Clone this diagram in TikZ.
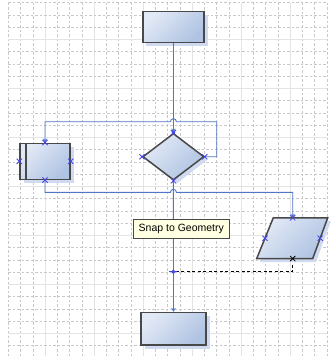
\documentclass[tikz,border=0pt]{standalone}
\usepackage{fontspec}
\setmainfont{Liberation Sans}
\usetikzlibrary{shapes.geometric,arrows.meta,calc}
\definecolor{gridA}{HTML}{C8C8C8}
\definecolor{gridB}{HTML}{E4E4E4}
\definecolor{conn}{HTML}{5077C6}
\definecolor{markblue}{HTML}{4646E6}
\definecolor{shA}{HTML}{E2E9F6}
\definecolor{shB}{HTML}{AFC3E2}
\definecolor{shad}{HTML}{D0DBF2}
\definecolor{edge}{HTML}{484848}
\definecolor{tipbg}{HTML}{FFFFE1}
\tikzset{
  shapebox/.style={draw=edge, line width=1.5pt, top color=shA, bottom color=shB, shading angle=45, inner sep=0pt},
  shadowbox/.style={fill=shad, draw=none},
  connector/.style={draw=conn, line width=0.9pt},
  arrowed/.style={-{Stealth[length=4pt,width=4.5pt]}},
  xmark/.style={draw=markblue, line width=0.8pt},
}
\newcommand{\xm}[2][markblue]{\draw[xmark,draw=#1] ($(#2)+(-2.6pt,-2.6pt)$) -- ($(#2)+(2.6pt,2.6pt)$) ($(#2)+(-2.6pt,2.6pt)$) -- ($(#2)+(2.6pt,-2.6pt)$);}
\begin{document}
\begin{tikzpicture}[x=1pt,y=-1pt]
\useasboundingbox (0,0) rectangle (331,356);
\fill[white] (0,0) rectangle (331,356);
% grid
\foreach \k in {0,...,26}{
  \pgfmathsetmacro{\gx}{8.3+12.25*\k}
  \pgfmathtruncatemacro{\m}{mod(\k,4)}
  \ifnum\m=3
    \draw[gridB, line width=1pt] (\gx,2.7) -- (\gx,356);
  \else
    \draw[gridA, line width=0.6pt, dash pattern=on 2.5pt off 2pt] (\gx,2.7) -- (\gx,356);
  \fi
}
\foreach \k in {0,...,28}{
  \pgfmathsetmacro{\gy}{2.7+12.25*\k}
  \pgfmathtruncatemacro{\m}{mod(\k,4)}
  \ifnum\m=3
    \draw[gridB, line width=1pt] (8.3,\gy) -- (326.8,\gy);
  \else
    \draw[gridA, line width=0.6pt, dash pattern=on 2.5pt off 2pt] (8.3,\gy) -- (326.8,\gy);
  \fi
}
% shadows
\fill[shadowbox] (146,15) rectangle (207.5,45.5);
\fill[shadowbox] (23.5,146.5) rectangle (73.5,182.5);
\fill[shadowbox] (176.5,136) -- (207.5,159.7) -- (176.5,183.5) -- (145.7,159.7) -- cycle;
\fill[shadowbox] (276.5,221) -- (331,221) -- (316,262) -- (260,262) -- cycle;
\fill[shadowbox] (144.5,316) rectangle (209.5,348.5);
% shapes
\node[shapebox, rectangle, minimum width=61.3pt, minimum height=30.6pt] (top) at (173.4,27) {};
\node[shapebox, rectangle, minimum width=50pt, minimum height=36pt] (box) at (45,161.3) {};
\draw[edge, line width=1.2pt] (26,143.3) -- (26,179.3);
\node[shapebox, diamond, minimum width=61.3pt, minimum height=46.7pt] (dia) at (173.4,156.7) {};
\node[shapebox, rectangle, minimum width=65pt, minimum height=32.3pt] (bot) at (173.5,328.8) {};
% parallelogram
\coordinate (pTL) at (273.3,217.8);
\coordinate (pTR) at (327.7,217.8);
\coordinate (pBR) at (312.7,258.6);
\coordinate (pBL) at (256.7,258.6);
\shade[draw=edge, line width=1.5pt, top color=shA, bottom color=shB, shading angle=45] (pTL) -- (pTR) -- (pBR) -- (pBL) -- cycle;
\coordinate (ptop) at (292.7,217.8);
\coordinate (pbot) at (292.7,258.6);
\coordinate (pleft) at (265,238.2);
\coordinate (pright) at (320.2,238.2);
% connectors
\draw[connector, arrowed] (top.south) -- (dia.north);
\coordinate (loopR) at (216.7,121.7);
\coordinate (loopL) at (45,121.7);
\draw[connector, arrowed] (dia.east) -- (216.7,156.7) -- (loopR) -- (176.4,121.7) arc[start angle=0, end angle=180, radius=3pt] -- (loopL) -- (box.north);
\coordinate (lowL) at (45,192.3);
\coordinate (lowR) at (292.7,192.3);
\draw[connector, arrowed] (box.south) -- (lowL) -- (170.4,192.3) arc[start angle=180, end angle=0, radius=3pt] -- (lowR) -- (ptop);
\draw[connector, arrowed] (dia.south) -- (bot.north);
% dashed guide
\coordinate (snap) at (173.4,271.7);
\coordinate (guideR) at (292.7,271.7);
\draw[black, line width=0.8pt, dash pattern=on 3pt off 2.5pt] ($(pbot)+(0,6)$) -- (guideR) -- (snap);
% markers
\xm{dia.north}\xm{dia.west}\xm{dia.east}\xm{dia.south}
\xm{box.north}\xm{box.west}\xm{box.east}\xm{box.south}
\xm{ptop}\xm{pleft}\xm{pright}\xm[black]{pbot}
\fill[markblue] (dia.north) circle (1.8pt);
\draw[markblue, line width=0.9pt] (snap) circle (1.6pt);
\draw[markblue, line width=0.9pt] ($(snap)+(-4pt,0)$) -- ($(snap)+(4pt,0)$);
% tooltip
\node[draw=edge, line width=0.7pt, fill=tipbg, minimum width=96pt, minimum height=19pt, inner sep=0pt, font=\fontsize{10.5}{12}\selectfont] (tip) at (181.3,228.8) {Snap to Geometry};
\end{tikzpicture}
\end{document}
